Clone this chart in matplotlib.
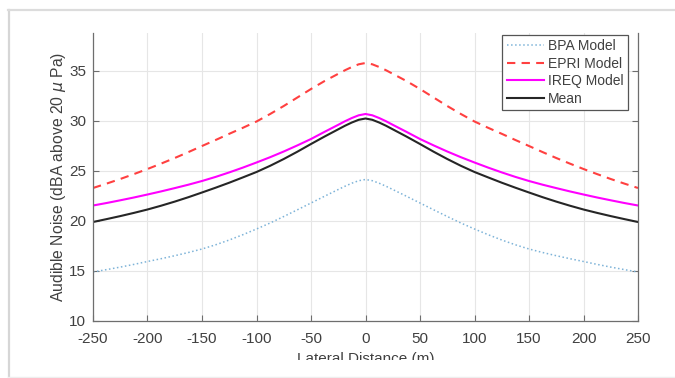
import matplotlib
matplotlib.use("Agg")
import matplotlib.pyplot as plt
from matplotlib.lines import Line2D
from matplotlib.patches import Rectangle

plt.rcParams['font.family'] = ['Liberation Sans', 'DejaVu Sans']
plt.rcParams['axes.unicode_minus'] = False

# lateral distance (m), left half incl. centre; curves are symmetric
x_half = [-250, -237.5, -225, -212.5, -200, -187.5, -175, -162.5, -150, -137.5,
          -125, -112.5, -100, -87.5, -75, -62.5, -50, -37.5, -25, -18.75, -12.5, -6.25, 0]
bpa_half = [14.9, 15.14, 15.39, 15.66, 15.95, 16.23, 16.53, 16.85, 17.2, 17.62,
            18.1, 18.63, 19.2, 19.8, 20.45, 21.12, 21.8, 22.48, 23.15, 23.48, 23.78, 24.03, 24.15]
epri_half = [23.3, 23.74, 24.2, 24.69, 25.2, 25.74, 26.3, 26.89, 27.5, 28.1,
             28.72, 29.32, 29.95, 30.7, 31.5, 32.35, 33.2, 34.0, 34.72, 35.08, 35.4, 35.67, 35.8]
ireq_half = [21.55, 21.8, 22.07, 22.35, 22.65, 22.96, 23.29, 23.63, 24.0, 24.41,
             24.86, 25.34, 25.85, 26.38, 26.95, 27.56, 28.2, 28.92, 29.62, 29.98, 30.3, 30.57, 30.7]
mean_half = [19.9, 20.19, 20.49, 20.81, 21.15, 21.53, 21.94, 22.38, 22.85, 23.33,
             23.83, 24.36, 24.9, 25.52, 26.2, 26.93, 27.7, 28.45, 29.17, 29.53, 29.85, 30.12, 30.25]

def mirror(v):
    return v + v[-2::-1]

x = x_half + [-t for t in x_half[-2::-1]]
bpa = mirror(bpa_half)
epri = mirror(epri_half)
ireq = mirror(ireq_half)
mean = mirror(mean_half)

xticks = [-250, -200, -150, -100, -50, 0, 50, 100, 150, 200, 250]
yticks = [10, 15, 20, 25, 30, 35]

W, H = 675, 378
fig = plt.figure(figsize=(W / 100, H / 100), dpi=100)
fig.patch.set_facecolor('white')
ax = fig.add_axes([93 / W, 1 - 321 / H, (638 - 93) / W, (321 - 33) / H])

ax.plot(x, bpa, color='#7db3d8', ls=':', lw=1.1, label='BPA Model')
ax.plot(x, epri, color='#ff4040', ls=(0, (4, 3)), lw=1.5, label='EPRI Model')
ax.plot(x, ireq, color='#ff00ff', ls='-', lw=1.5, label='IREQ Model')
ax.plot(x, mean, color='#262626', ls='-', lw=1.5, label='Mean')

ax.set_xlim(-250, 250)
ax.set_ylim(10, 38.8)
ax.set_xticks(xticks)
ax.set_yticks(yticks)
ax.grid(True, color='#e6e6e6', lw=0.8)
ax.set_axisbelow(True)

for s in ['left', 'bottom', 'right']:
    ax.spines[s].set_color('#6e6e6e')
    ax.spines[s].set_linewidth(0.9)
ax.spines['top'].set_visible(False)
ax.tick_params(direction='in', length=4, width=0.8, colors='#6e6e6e',
               labelcolor='#404040', labelsize=11, right=True, top=False)
ax.tick_params(axis='x', pad=8)
ax.tick_params(axis='y', pad=5)

ax.set_xlabel('Lateral Distance (m)', fontsize=11, color='#404040', labelpad=4)
ax.set_ylabel(r'Audible Noise (dBA above 20 $\mu$ Pa)', fontsize=11.3,
              color='#404040', labelpad=1)

leg = ax.legend(loc='upper right', bbox_to_anchor=(628 / W, 1 - 35 / H),
                bbox_transform=fig.transFigure, fontsize=10, frameon=True,
                fancybox=False, framealpha=1, edgecolor='#555555',
                handlelength=2.7, handletextpad=0.3, labelspacing=0.25,
                borderpad=0.3, borderaxespad=0)
leg.get_frame().set_linewidth(0.9)
for t in leg.get_texts():
    t.set_color('#404040')

# screenshot crop: bottom strip hides part of the x label
fig.patches.append(Rectangle((0, 0), 1, (H - 360) / H, transform=fig.transFigure,
                             facecolor='white', edgecolor='none', zorder=5))
fig.lines.append(Line2D([8.5 / W, 8.5 / W], [0, 1 - 10 / H], transform=fig.transFigure,
                        color='#d6d6d6', lw=1.6, zorder=6))
fig.lines.append(Line2D([8 / W, 1], [1 - 10 / H, 1 - 10 / H], transform=fig.transFigure,
                        color='#dcdcdc', lw=1.6, zorder=6))
fig.lines.append(Line2D([8 / W, 1], [1 - 376.5 / H, 1 - 376.5 / H], transform=fig.transFigure,
                        color='#eeeeee', lw=1.0, zorder=6))

fig.savefig('out.png', dpi=100)
